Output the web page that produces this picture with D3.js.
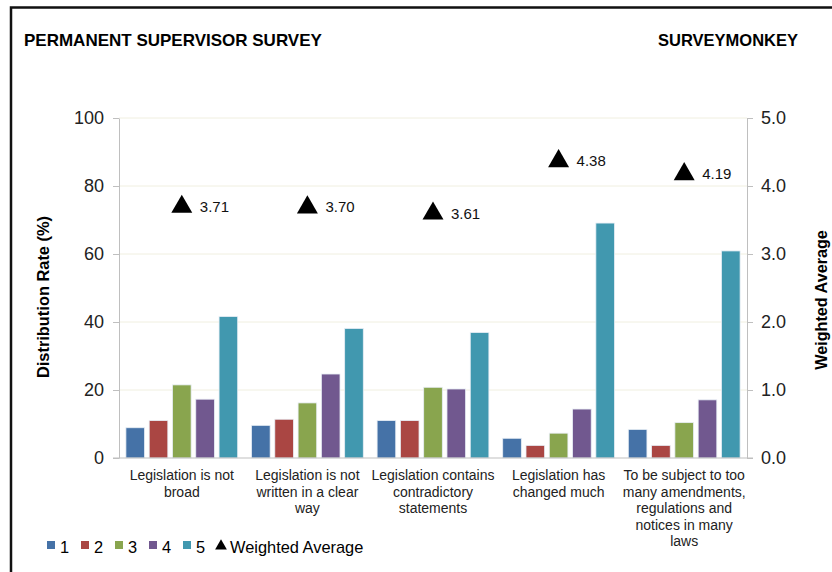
<!DOCTYPE html>
<html>
<head>
<meta charset="utf-8">
<title>Permanent Supervisor Survey</title>
<style>
body {
  margin: 0;
  background-color: white;
  font-family: "Liberation Sans", Arial, sans-serif;
}
svg {
  display: block;
}
.axis path,
.axis line {
  stroke: #bfbfbf;
}
.axis text {
  font-family: "Liberation Sans", Arial, sans-serif;
  font-size: 18px;
  fill: #222;
}
</style>
<script src="https://d3js.org/d3.v7.min.js"></script>
</head>
<body>
<svg width="832" height="572"></svg>
<script>
  // categories (wrapped label lines)
  const categories = [
    ['Legislation is not', 'broad'],
    ['Legislation is not', 'written in a clear', 'way'],
    ['Legislation contains', 'contradictory', 'statements'],
    ['Legislation has', 'changed much'],
    ['To be subject to too', 'many amendments,', 'regulations and', 'notices in many', 'laws']
  ];
  const seriesNames = ['1', '2', '3', '4', '5'];
  const s1 = [8.9, 9.6, 11.0, 5.8, 8.4];
  const s2 = [11.0, 11.4, 11.0, 3.7, 3.7];
  const s3 = [21.5, 16.2, 20.8, 7.3, 10.4];
  const s4 = [17.3, 24.7, 20.3, 14.4, 17.1];
  const s5 = [41.6, 38.1, 36.9, 69.1, 60.9];
  const weightedAvg = [3.71, 3.70, 3.61, 4.38, 4.19];
  const leftTicks = [0, 20, 40, 60, 80, 100];
  const rightTicks = [0, 1, 2, 3, 4, 5];
  const colors = ['#4572A7', '#AA4643', '#89A54E', '#71588F', '#4198AF'];

  const series = [s1, s2, s3, s4, s5];

  const svg = d3.select('svg');
  const margin = { top: 118, right: 85, bottom: 114, left: 119 };
  const width = 832 - margin.left - margin.right;
  const height = 572 - margin.top - margin.bottom;

  // frame
  svg.append('rect')
    .attr('x', 11).attr('y', 7.5)
    .attr('width', 840).attr('height', 600)
    .attr('fill', 'none')
    .attr('stroke', '#111')
    .attr('stroke-width', 2.5);

  // headings
  svg.append('text')
    .attr('x', 24).attr('y', 46)
    .attr('font-size', 17).attr('font-weight', 'bold')
    .text('PERMANENT SUPERVISOR SURVEY');
  svg.append('text')
    .attr('x', 798).attr('y', 46)
    .attr('text-anchor', 'end')
    .attr('font-size', 16.5).attr('font-weight', 'bold')
    .text('SURVEYMONKEY');

  const g = svg.append('g').attr('transform', `translate(${margin.left},${margin.top})`);

  const x0 = d3.scaleBand()
    .domain(d3.range(categories.length))
    .range([0, width])
    .paddingInner(0.11)
    .paddingOuter(0.055);
  const x1 = d3.scaleBand()
    .domain(seriesNames)
    .range([0, x0.bandwidth()])
    .paddingInner(0.2);
  const y = d3.scaleLinear().domain([0, 100]).range([height, 0]);
  const y2 = d3.scaleLinear().domain([0, 5]).range([height, 0]);

  // gridlines
  g.append('g')
    .selectAll('line')
    .data(leftTicks.slice(1))
    .enter().append('line')
    .attr('x1', 0).attr('x2', width)
    .attr('y1', d => y(d)).attr('y2', d => y(d))
    .attr('stroke', '#f0efe0');

  // bars
  series.forEach((vals, si) => {
    g.append('g')
      .selectAll('rect')
      .data(vals)
      .enter().append('rect')
      .attr('x', (d, i) => x0(i) + x1(seriesNames[si]))
      .attr('y', d => y(d))
      .attr('width', x1.bandwidth())
      .attr('height', d => height - y(d))
      .attr('fill', colors[si])
      .attr('stroke', '#e8eef5')
      .attr('stroke-width', 0.8);
  });

  // axes
  g.append('g')
    .attr('class', 'axis')
    .call(d3.axisLeft(y).tickValues(leftTicks).tickSize(6).tickPadding(9).tickSizeOuter(0));
  g.append('g')
    .attr('class', 'axis')
    .attr('transform', `translate(${width},0)`)
    .call(d3.axisRight(y2).tickValues(rightTicks).tickFormat(d3.format('.1f')).tickSize(6).tickPadding(8).tickSizeOuter(0));
  g.append('line')
    .attr('x1', -6).attr('x2', width + 6)
    .attr('y1', height).attr('y2', height)
    .attr('stroke', '#bfbfbf');

  // category labels
  const catLabels = g.append('g')
    .attr('font-size', 14)
    .attr('fill', '#222')
    .attr('text-anchor', 'middle');
  categories.forEach((lines, i) => {
    const t = catLabels.append('text')
      .attr('x', x0(i) + x0.bandwidth() / 2)
      .attr('y', height + 22);
    lines.forEach((ln, j) => {
      t.append('tspan')
        .attr('x', x0(i) + x0.bandwidth() / 2)
        .attr('dy', j === 0 ? 0 : 16.5)
        .text(ln);
    });
  });

  // weighted average markers
  const tri = d3.symbol().type(d3.symbolTriangle).size(190);
  const avgG = g.append('g');
  weightedAvg.forEach((v, i) => {
    const cx = x0(i) + x0.bandwidth() / 2;
    avgG.append('path')
      .attr('d', tri)
      .attr('transform', `translate(${cx},${y2(v) + 1})`)
      .attr('fill', '#000');
    avgG.append('text')
      .attr('x', cx + 18)
      .attr('y', y2(v) + 6)
      .attr('font-size', 15)
      .attr('fill', '#111')
      .text(v.toFixed(2));
  });

  // axis titles
  svg.append('text')
    .attr('transform', 'translate(49,297) rotate(-90)')
    .attr('text-anchor', 'middle')
    .attr('font-size', 16.4).attr('font-weight', 'bold')
    .text('Distribution Rate (%)');
  svg.append('text')
    .attr('transform', 'translate(827,300) rotate(-90)')
    .attr('text-anchor', 'middle')
    .attr('font-size', 16.2).attr('font-weight', 'bold')
    .text('Weighted Average');

  // legend
  const legend = svg.append('g').attr('transform', 'translate(47,547)');
  seriesNames.forEach((name, i) => {
    const lx = i * 34;
    legend.append('rect')
      .attr('x', lx).attr('y', -6)
      .attr('width', 8).attr('height', 8)
      .attr('fill', colors[i]);
    legend.append('text')
      .attr('x', lx + 13).attr('y', 0)
      .attr('dy', '0.35em')
      .attr('font-size', 16.4)
      .text(name);
  });
  legend.append('path')
    .attr('d', d3.symbol().type(d3.symbolTriangle).size(60))
    .attr('transform', 'translate(174,-1)')
    .attr('fill', '#000');
  legend.append('text')
    .attr('x', 183).attr('y', 0)
    .attr('dy', '0.35em')
    .attr('font-size', 16.4)
    .text('Weighted Average');
</script>
</body>
</html>
